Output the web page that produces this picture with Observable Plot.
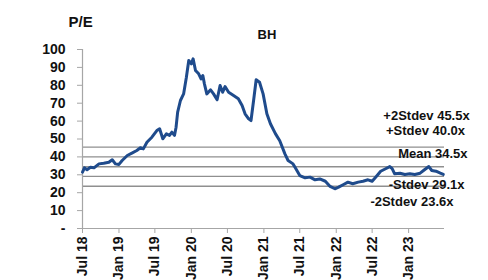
<!DOCTYPE html>
<html>
<head>
<meta charset="utf-8">
<script src="https://cdn.jsdelivr.net/npm/d3@7"></script>
<script src="https://cdn.jsdelivr.net/npm/@observablehq/plot@0.6"></script>
<style>
  html, body { margin: 0; padding: 0; background: #fff; }
  #chart svg { display: block; }
</style>
</head>
<body>
<div id="chart"></div>
<script>
// ---- data ----
const dates = [
  "2018-07-01","2018-07-11","2018-07-24","2018-08-10","2018-08-28","2018-09-22","2018-10-16","2018-11-11",
  "2018-11-28","2018-12-14","2019-01-01","2019-01-17","2019-02-12","2019-03-07","2019-04-01","2019-04-19",
  "2019-05-04","2019-05-22","2019-06-16","2019-07-11","2019-07-25","2019-08-10","2019-08-28","2019-09-13",
  "2019-09-25","2019-10-08","2019-10-16","2019-10-24","2019-11-07","2019-11-23","2019-12-07","2019-12-19",
  "2020-01-01","2020-01-10","2020-01-22","2020-02-07","2020-02-19","2020-02-28","2020-03-07","2020-03-19",
  "2020-04-07","2020-04-22","2020-05-10","2020-05-25","2020-06-07","2020-06-19","2020-07-07","2020-08-01",
  "2020-08-25","2020-09-13","2020-09-28","2020-10-16","2020-10-28","2020-11-10","2020-11-23","2020-12-10",
  "2020-12-28","2021-01-16","2021-02-03","2021-02-28","2021-03-22","2021-04-17","2021-05-03","2021-05-28",
  "2021-06-07","2021-07-01","2021-07-28","2021-08-22","2021-09-16","2021-10-10","2021-11-07","2021-12-01",
  "2021-12-25","2022-01-13","2022-02-07","2022-03-01","2022-03-25","2022-04-22","2022-05-16","2022-06-10",
  "2022-07-01","2022-07-22","2022-08-13","2022-09-07","2022-09-28","2022-10-10","2022-10-22","2022-11-19",
  "2022-12-13","2023-01-07","2023-02-01","2023-02-28","2023-03-22","2023-04-13","2023-04-28","2023-05-19",
  "2023-06-10","2023-06-25"
];
const pe = [
  31.5, 33.9, 32.8, 34.2, 33.9, 36.1, 36.5, 37.0,
  38.4, 36.1, 35.8, 38.0, 40.8, 42.1, 43.6, 45.1,
  44.5, 48.2, 51.0, 54.7, 55.7, 50.1, 52.9, 52.0,
  53.8, 52.0, 56.6, 65.0, 71.5, 75.2, 84.5, 93.9,
  92.0, 94.8, 88.3, 86.4, 83.6, 85.5, 80.8, 75.2,
  77.5, 75.2, 71.9, 79.9, 76.1, 79.3, 76.1, 74.3,
  72.5, 68.7, 64.1, 61.3, 60.3, 71.5, 83.1, 81.7,
  75.2, 64.1, 58.5, 53.0, 49.0, 41.7, 38.0, 36.1,
  34.2, 29.6, 28.3, 28.7, 27.2, 27.7, 26.4, 23.5,
  22.2, 23.1, 24.6, 25.9, 25.0, 25.9, 26.4, 27.2,
  26.4, 29.1, 32.0, 33.4, 34.6, 33.4, 30.6, 30.9,
  30.2, 30.6, 30.2, 30.9, 32.8, 34.6, 32.4, 32.0,
  30.9, 30.2
];
const bandValues = [45.5, 40.0, 34.5, 29.1, 23.6];
const bandLabels = ["+2Stdev 45.5x", "+Stdev 40.0x", "Mean 34.5x", "-Stdev 29.1x", "-2Stdev 23.6x"];
const yTicks = [0, 10, 20, 30, 40, 50, 60, 70, 80, 90, 100];
const xTickDates = ["2018-07-01","2019-01-01","2019-07-01","2020-01-01","2020-07-01","2021-01-01","2021-07-01","2022-01-01","2022-07-01","2023-01-01"];
const xTickLabels = ["Jul 18","Jan 19","Jul 19","Jan 20","Jul 20","Jan 21","Jul 21","Jan 22","Jul 22","Jan 23"];
const yTitle = "P/E";
const chartTitle = "BH";

// ---- build tables ----
const series = dates.map((d, i) => ({date: new Date(d), pe: pe[i]}));
const start = new Date("2018-07-01");
const end = new Date("2023-07-01");
const bands = bandValues.map((v, i) => ({value: v, label: bandLabels[i]}));
const xTicks = xTickDates.map(d => new Date(d));
const xLabelOf = new Map(xTicks.map((d, i) => [+d, xTickLabels[i]]));

const font = "'Liberation Sans', Arial, Helvetica, sans-serif";
const axisGray = "#a6a6a6";
const bandGray = "#8f8f8f";
const blue = "#1f4b8c";

// per-label placement relative to the end of each band line (layout only)
const labelLayout = [
  {dx: -18, dy: -31, anchor: "middle"},
  {dx: -19, dy: -26, anchor: "middle"},
  {dx: 23,  dy: -13, anchor: "end"},
  {dx: 20,  dy: 8,   anchor: "end"},
  {dx: 9,   dy: 16,  anchor: "end"}
];

const labelMarks = bands.map((b, i) => Plot.text([b], {
  x: () => end, y: "value", text: "label",
  dx: labelLayout[i].dx, dy: labelLayout[i].dy, textAnchor: labelLayout[i].anchor,
  fontSize: 13, fontWeight: "bold", fill: "#111"
}));

const chart = Plot.plot({
  width: 488,
  height: 280,
  marginLeft: 82,
  marginRight: 44,
  marginTop: 49,
  marginBottom: 52,
  style: {fontFamily: font, fontWeight: "bold", color: "#111", background: "#fff"},
  x: {type: "utc", domain: [start, end]},
  y: {domain: [0, 100]},
  marks: [
    Plot.ruleY(bands, {y: "value", x1: () => start, x2: () => end, stroke: bandGray, strokeWidth: 1.3}),
    Plot.ruleX([start], {stroke: axisGray, strokeWidth: 1.2}),
    Plot.ruleY([0], {stroke: axisGray, strokeWidth: 1.2}),
    Plot.axisY({
      ticks: yTicks, tickSize: 5, tickPadding: 12, stroke: axisGray,
      tickFormat: d => d === 0 ? "-" : String(d),
      fontSize: 14, fontWeight: "bold", label: null
    }),
    Plot.axisX({
      ticks: xTicks, tickSize: 5, tickPadding: 3, tickRotate: -90, stroke: axisGray,
      tickFormat: d => xLabelOf.get(+d),
      fontSize: 14, fontWeight: "bold", label: null
    }),
    Plot.line(series, {x: "date", y: "pe", stroke: blue, strokeWidth: 3, strokeLinejoin: "round", strokeLinecap: "round"}),
    ...labelMarks,
    Plot.text([yTitle], {frameAnchor: "top-left", lineAnchor: "middle", dx: -14, dy: -27, text: d => d, fontSize: 15, fontWeight: "bold", textAnchor: "start"}),
    Plot.text([chartTitle], {frameAnchor: "top-left", lineAnchor: "middle", dx: 175, dy: -15, text: d => d, fontSize: 13, fontWeight: "bold", textAnchor: "start"})
  ]
});
document.getElementById("chart").append(chart);
</script>
</body>
</html>
